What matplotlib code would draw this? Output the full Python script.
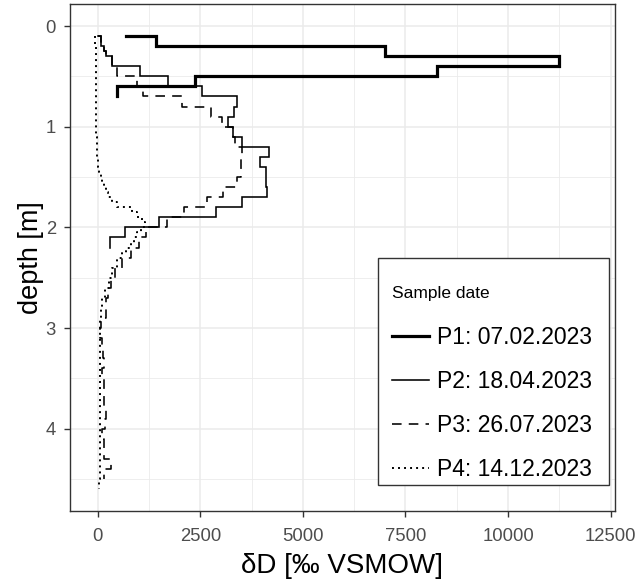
import matplotlib
matplotlib.use("Agg")
import matplotlib.pyplot as plt
import numpy as np
from matplotlib.lines import Line2D
from matplotlib.patches import Rectangle

plt.rcParams['font.family'] = ['Liberation Sans', 'DejaVu Sans']

# ---- data (depth in m, dD in permil VSMOW); value belongs to interval ending at depth
p1_depth = [0.1, 0.2, 0.3, 0.4, 0.5, 0.6, 0.7]
p1_dD = [700, 1430, 7000, 11240, 8275, 2370, 478]

p2_depth = [0.1, 0.2, 0.25, 0.3, 0.4, 0.5, 0.6, 0.7, 0.8, 0.9, 1.0, 1.1, 1.2,
            1.3, 1.4, 1.5, 1.6, 1.7, 1.8, 1.9, 2.0, 2.1, 2.2]
p2_dD = [15, 80, 150, 210, 357, 1023, 1720, 2549, 3390, 3330, 3183, 3305, 3508,
         4182, 3955, 4090, 4090, 4130, 3508, 2883, 1501, 665, 300]

p3_depth = [0.1, 0.2, 0.25, 0.3, 0.4, 0.5, 0.6, 0.7, 0.8, 0.9, 1.0, 1.1, 1.2, 1.3,
            1.4, 1.5, 1.6, 1.7, 1.8, 1.9, 2.0, 2.1, 2.2, 2.3, 2.4, 2.5, 2.6, 2.7,
            2.8, 2.9, 3.0, 3.1, 3.2, 3.3, 3.4, 3.5, 3.6, 3.7, 3.8, 3.9, 4.0, 4.1,
            4.2, 4.3, 4.4, 4.5]
p3_dD = [15, 80, 150, 210, 357, 480, 965, 1100, 2050, 2750, 3030, 3300, 3350, 3508,
         3500, 3480, 3387, 3060, 2660, 2100, 1680, 1180, 1000, 800, 600, 420, 320, 240,
         200, 200, 80, 60, 110, 120, 150, 110, 150, 150, 150, 200, 180, 110,
         150, 160, 316, 150]

p4_depth = [0.1, 0.2, 0.3, 0.4, 0.5, 0.6, 0.7, 0.8, 0.9, 1.0, 1.1, 1.2, 1.3,
            1.35, 1.4, 1.45, 1.5, 1.55, 1.6, 1.65, 1.7, 1.75, 1.8, 1.85, 1.9,
            1.95, 2.0, 2.05, 2.1, 2.15, 2.2, 2.25, 2.3,
            2.4, 2.5, 2.6, 2.7, 2.8, 2.9, 3.0, 3.1, 3.2, 3.3, 3.4, 3.5, 3.6,
            3.7, 3.8, 3.9, 4.0, 4.1, 4.2, 4.3, 4.4, 4.5, 4.6]
p4_dD = [-60, -55, -50, -50, -45, -45, -45, -40, -40, -35, -30, -25, -15,
         0, 15, 35, 70, 110, 150, 200, 250, 350, 470, 840, 960,
         1090, 1150, 1050, 960, 880, 800, 700, 600,
         460, 360, 270, 190, 110, 70, 55, 50, 50, 45, 50, 45, 50,
         50, 45, 50, 55, 50, 45, 50, 45, 50, 40]

labels = ["P1: 07.02.2023", "P2: 18.04.2023", "P3: 26.07.2023", "P4: 14.12.2023"]
x_ticks = [0, 2500, 5000, 7500, 10000, 12500]
y_ticks = [0, 1, 2, 3, 4]

# ---- figure
W, H = 643, 579
fig = plt.figure(figsize=(W / 100, H / 100), dpi=100)
L, R, T, B = 69.5, 614.5, 4, 510.7
ax = fig.add_axes([L / W, 1 - B / H, (R - L) / W, (B - T) / H])

series = [
    (p1_dD, p1_depth, dict(lw=2.3, ls='-')),
    (p2_dD, p2_depth, dict(lw=1.15, ls='-')),
    (p3_dD, p3_depth, dict(lw=1.15, ls=(0, (6, 4.5)))),
    (p4_dD, p4_depth, dict(lw=1.4, ls=(0, (1, 2.1)))),
]
handles = []
for (x, y, st), lab in zip(series, labels):
    ax.plot(x, y, drawstyle='steps-post', color='black',
            solid_joinstyle='miter', dash_capstyle='butt', label=lab, **st)
    handles.append(Line2D([], [], color='black', **st))

ax.set_xlim(-687, 12593)
ax.set_ylim(4.813, -0.2185)
ax.set_xticks(x_ticks)
ax.set_yticks(y_ticks)
ax.set_xticks(np.arange(1250, 12600, 2500), minor=True)
ax.set_yticks(np.arange(0.5, 4.8, 1.0), minor=True)
ax.grid(True, which='major', color='#EBEBEB', lw=1.1, zorder=0)
ax.grid(True, which='minor', color='#EBEBEB', lw=0.6, zorder=0)
ax.set_axisbelow(True)
ax.tick_params(which='minor', length=0)
ax.tick_params(which='major', length=4.3, width=1.0, color='#333333',
               labelsize=13.3, labelcolor='#4D4D4D')
ax.tick_params(axis='x', pad=8)
ax.tick_params(axis='y', pad=5.5)
for s in ax.spines.values():
    s.set_color('#333333')
    s.set_linewidth(1.0)

ax.set_xlabel("δD [‰ VSMOW]", fontsize=20, labelpad=6)
ax.set_ylabel("depth [m]", fontsize=19.5, labelpad=1)

# legend frame (pixel box converted to axes fraction)
def ax_x(px):
    return (px - L) / (R - L)

def ax_y(py):
    return (B - py) / (B - T)

ax.add_patch(Rectangle((ax_x(378), ax_y(485)), ax_x(609) - ax_x(378),
                       ax_y(258) - ax_y(485), transform=ax.transAxes,
                       facecolor='white', edgecolor='#333333', lw=1.0, zorder=5))

fs = 16.5
pad = 0.25
pad_px = pad * fs * 100 / 72
leg = ax.legend(handles, labels, title="Sample date", loc='lower left',
                bbox_to_anchor=(ax_x(392 - pad_px), ax_y(470 + 11.5 + pad_px)),
                frameon=False, fontsize=fs, title_fontsize=12.5,
                handlelength=1.6, handletextpad=0.36, labelspacing=0.925,
                borderpad=pad, borderaxespad=0)
leg.set_zorder(6)
leg._legend_box.align = "left"
leg._legend_box.sep = 18

fig.savefig("out.png", dpi=100)
